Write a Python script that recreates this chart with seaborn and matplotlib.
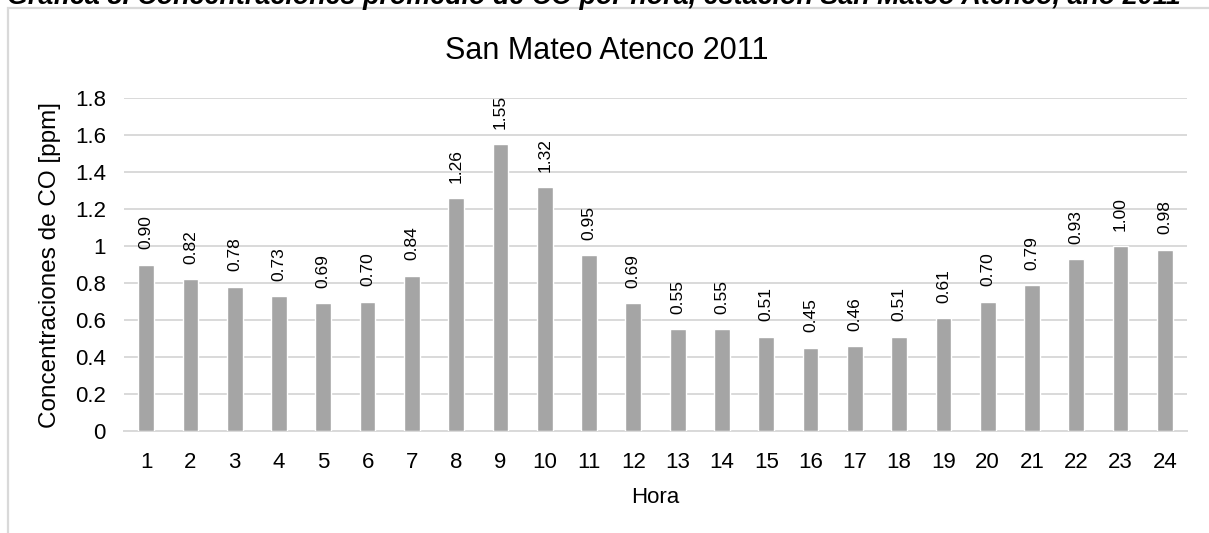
import matplotlib
matplotlib.use("Agg")
import matplotlib.pyplot as plt
import seaborn as sns
import pandas as pd
from matplotlib.patches import Rectangle

sns.set_style("white")
plt.rcParams['font.family'] = ['Liberation Sans', 'DejaVu Sans']
plt.rcParams['text.color'] = '#000000'
plt.rcParams['axes.labelcolor'] = '#000000'

horas = [str(h) for h in range(1, 25)]
concentraciones = [0.90, 0.82, 0.78, 0.73, 0.69, 0.70, 0.84, 1.26, 1.55, 1.32, 0.95, 0.69,
                   0.55, 0.55, 0.51, 0.45, 0.46, 0.51, 0.61, 0.70, 0.79, 0.93, 1.00, 0.98]
etiquetas = [f"{v:.2f}" for v in concentraciones]
yticks = [0, 0.2, 0.4, 0.6, 0.8, 1, 1.2, 1.4, 1.6, 1.8]
ytick_labels = ["0", "0.2", "0.4", "0.6", "0.8", "1", "1.2", "1.4", "1.6", "1.8"]

df = pd.DataFrame({"Hora": horas, "CO": concentraciones})

W, H = 1209, 533
fig = plt.figure(figsize=(W / 100, H / 100), dpi=100)
ax = fig.add_axes([124 / W, 1 - 431 / H, (1187 - 124) / W, (431 - 98) / H])

sns.barplot(data=df, x="Hora", y="CO", color="#A5A5A5", saturation=1, width=0.355, ax=ax, zorder=3)

for i, (v, t) in enumerate(zip(concentraciones, etiquetas)):
    ax.annotate(t, (i, v), xytext=(0, 11), textcoords="offset points",
                rotation=90, ha="center", va="bottom", fontsize=12.5, color="#000000")

ax.set_ylim(0, 1.8)
ax.set_yticks(yticks)
ax.set_yticklabels(ytick_labels)
ax.set_xlim(-0.5, 23.5)
ax.yaxis.grid(True, color="#D9D9D9", lw=1.4, zorder=0)
ax.set_axisbelow(True)
for s in ["top", "right", "left"]:
    ax.spines[s].set_visible(False)
ax.spines["bottom"].set_color("#D9D9D9")
ax.spines["bottom"].set_linewidth(1.4)
ax.tick_params(axis="both", length=0, labelsize=16, colors="#000000")
ax.tick_params(axis="y", pad=13)
ax.tick_params(axis="x", pad=15)
ax.set_xlabel("Hora", fontsize=16, labelpad=10)
ax.set_ylabel("Concentraciones de CO [ppm]", fontsize=17.5, labelpad=10)

fig.text(607 / W, 1 - 51 / H, "San Mateo Atenco 2011", ha="center", va="center", fontsize=22)

fig.text(7 / W, 1 - 4 / H,
         "Gráfica 8. Concentraciones promedio de CO por hora, estación San Mateo Atenco, año 2011",
         ha="left", va="baseline", fontsize=19.4, fontweight="bold", fontstyle="italic")

fig.add_artist(Rectangle((7.5 / W, -0.1), 1.2, 1.1 - 8.5 / H, transform=fig.transFigure,
                         fill=False, edgecolor="#D9D9D9", lw=1.6))

fig.savefig("out.png", dpi=100)
